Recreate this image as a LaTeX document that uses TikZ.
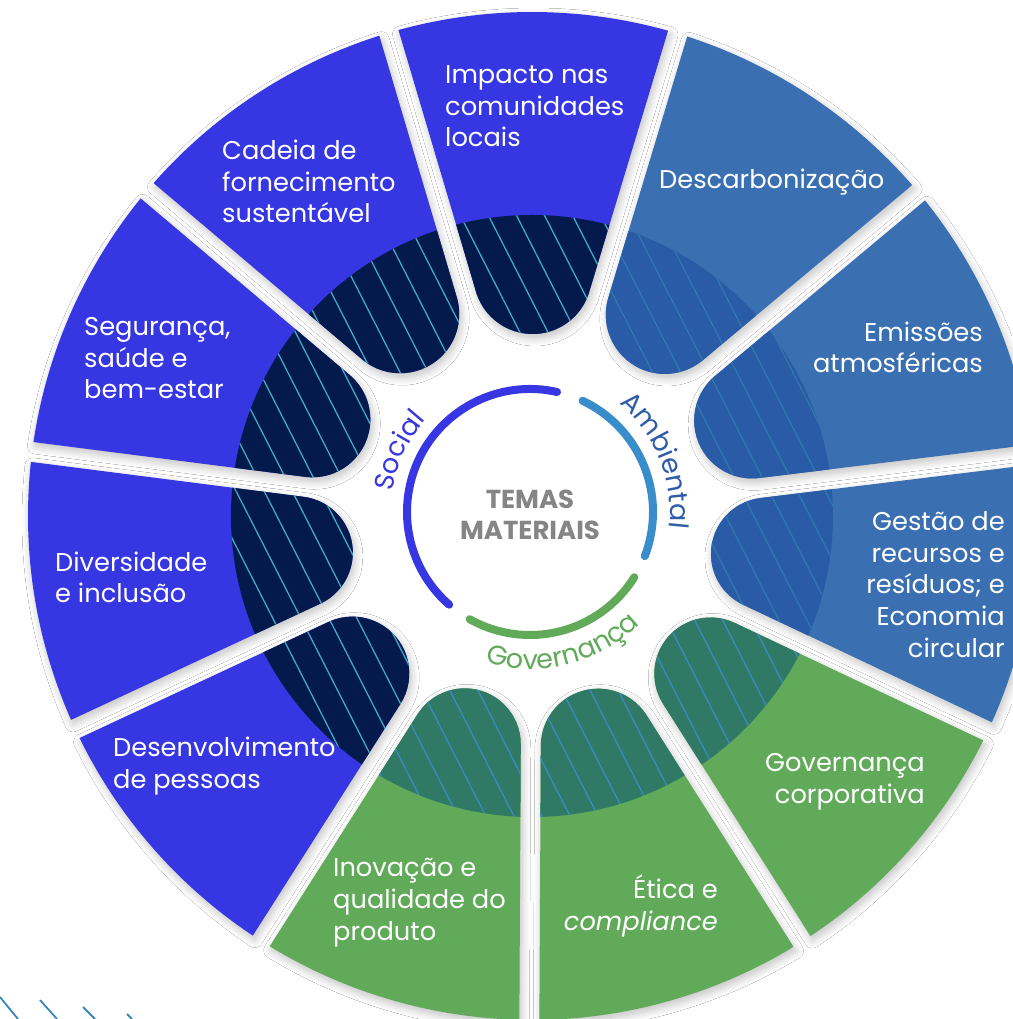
\documentclass[tikz,border=0pt]{standalone}
\usepackage{fontspec}
\setmainfont{Poppins}
\usepackage{tikz}
\usetikzlibrary{positioning}
\usetikzlibrary{calc,patterns.meta}
\usetikzlibrary{decorations.text}
\usetikzlibrary{shadows.blur}

\definecolor{SocialPetal}{HTML}{3636E2}
\definecolor{SocialDark}{HTML}{041A4C}
\definecolor{SocialHatch}{HTML}{40A8C8}
\definecolor{AmbPetal}{HTML}{3A70B1}
\definecolor{AmbDark}{HTML}{2A5BA6}
\definecolor{AmbHatch}{HTML}{2F79AD}
\definecolor{GovPetal}{HTML}{61AA5A}
\definecolor{GovDark}{HTML}{307A65}
\definecolor{GovHatch}{HTML}{3A8BBE}
\definecolor{AmbArc}{HTML}{3A8DCB}
\definecolor{AmbText}{HTML}{2E5CA8}
\definecolor{TextGray}{HTML}{858585}
\definecolor{DecoLine}{HTML}{3A86B8}

\newcommand{\petalfont}{\fontsize{25.7}{31.6}\selectfont}
\newcommand{\arclabelfont}{\fontsize{27}{30}\selectfont}

\tikzset{
	petal/.style={fill=#1Petal},
	petal shadow/.style={blur shadow={shadow xshift=2pt, shadow yshift=-4pt, shadow blur radius=8pt, shadow blur steps=12, shadow opacity=25}},
	petal text/.style={text=white, font=\petalfont, inner sep=0pt},
	ring line/.style={line width=8pt, line cap=round},
}

\begin{document}
\begin{tikzpicture}[x=1pt, y=1pt]
	\useasboundingbox (-532,-503) rectangle (480,516);
	\fill[white] (-532,-503) rectangle (480,516);
	
	% ---------------------
	% Wheel & ring centres
	\coordinate (Wheel) at (0,0);
	\coordinate (Ring) at (-2,4);
	
	\def\wheelR{504}
	\def\tipR{182}
	\def\gapH{10}
	\def\darkR{301}
	
	% ---------------------
	% Shadows first, then the petals
	\foreach \lo/\hi in {-90.3/-57.6, -122.5/-90.3, -155/-122.5, 172.7/205, 139.8/172.7, 106.5/139.8, 73.2/106.5, 39.9/73.2, 7/39.9, -25.3/7, -57.6/-25.3}{
		\pgfmathsetmacro\pMid{(\lo+\hi)/2}
		\pgfmathsetmacro\pHalf{(\hi-\lo)/2}
		\pgfmathsetmacro\pDist{(\tipR-\gapH)/(1-sin(\pHalf))}
		\pgfmathsetmacro\pRad{\pDist*sin(\pHalf)-\gapH}
		\pgfmathsetmacro\pOut{\pHalf-asin(\gapH/\wheelR)}
		\pgfmathsetmacro\pTx{\pDist*cos(\pMid)+\pRad*cos(\pMid+90+\pHalf)}
		\pgfmathsetmacro\pTy{\pDist*sin(\pMid)+\pRad*sin(\pMid+90+\pHalf)}
		\path[petal shadow] (\pMid+\pOut:\wheelR) -- (\pTx,\pTy) arc[start angle=\pMid+90+\pHalf, end angle=\pMid+270-\pHalf, radius=\pRad] -- (\pMid-\pOut:\wheelR) arc[start angle=\pMid-\pOut, end angle=\pMid+\pOut, radius=\wheelR] -- cycle;
	}
	
	\foreach \lo/\hi/\kind in {-90.3/-57.6/Gov, -122.5/-90.3/Gov, -155/-122.5/Social, 172.7/205/Social, 139.8/172.7/Social, 106.5/139.8/Social, 73.2/106.5/Social, 39.9/73.2/Amb, 7/39.9/Amb, -25.3/7/Amb, -57.6/-25.3/Gov}{
		\pgfmathsetmacro\pMid{(\lo+\hi)/2}
		\pgfmathsetmacro\pHalf{(\hi-\lo)/2}
		\pgfmathsetmacro\pDist{(\tipR-\gapH)/(1-sin(\pHalf))}
		\pgfmathsetmacro\pRad{\pDist*sin(\pHalf)-\gapH}
		\pgfmathsetmacro\pOut{\pHalf-asin(\gapH/\wheelR)}
		\pgfmathsetmacro\pTx{\pDist*cos(\pMid)+\pRad*cos(\pMid+90+\pHalf)}
		\pgfmathsetmacro\pTy{\pDist*sin(\pMid)+\pRad*sin(\pMid+90+\pHalf)}
		\fill[petal=\kind] (\pMid+\pOut:\wheelR) -- (\pTx,\pTy) arc[start angle=\pMid+90+\pHalf, end angle=\pMid+270-\pHalf, radius=\pRad] -- (\pMid-\pOut:\wheelR) arc[start angle=\pMid-\pOut, end angle=\pMid+\pOut, radius=\wheelR] -- cycle;
		\begin{scope}
			\clip (\pMid+\pOut:\wheelR) -- (\pTx,\pTy) arc[start angle=\pMid+90+\pHalf, end angle=\pMid+270-\pHalf, radius=\pRad] -- (\pMid-\pOut:\wheelR) arc[start angle=\pMid-\pOut, end angle=\pMid+\pOut, radius=\wheelR] -- cycle;
			\fill[\kind Dark] (Wheel) circle[radius=\darkR];
			\fill[pattern={Lines[angle=-63, distance=25pt, line width=1.3pt]}, pattern color=\kind Hatch] (Wheel) circle[radius=\darkR];
		\end{scope}
	}
	
	% ---------------------
	% Petal labels (base = last line)
	\node[petal text, anchor=base west, align=left] (Impacto) at (-87,369) {Impacto nas\\comunidades\\locais};
	\node[petal text, anchor=base west, align=left] (Cadeia) at (-310,293) {Cadeia de\\fornecimento\\sustentável};
	\node[petal text, anchor=base west, align=left] (Seguranca) at (-448,117) {Segurança,\\saúde e\\bem-estar};
	\node[petal text, anchor=base west, align=left] (Diversidade) at (-477,-87) {Diversidade\\e inclusão};
	\node[petal text, anchor=base west, align=left] (Desenvolvimento) at (-419,-272) {Desenvolvimento\\de pessoas};
	\node[petal text, anchor=base west, align=left] (Inovacao) at (-199,-424) {Inovação e\\qualidade do\\produto};
	\node[petal text, anchor=base east, align=right] (Etica) at (186,-414) {Ética e\\\textit{compliance}};
	\node[petal text, anchor=base east, align=right] (GovCorp) at (393,-287) {Governança\\corporativa};
	\node[petal text, anchor=base east, align=right] (Gestao) at (473,-141) {Gestão de\\recursos e\\resíduos; e\\Economia\\circular};
	\node[petal text, anchor=base east, align=right] (Emissoes) at (451,143) {Emissões\\atmosféricas};
	\node[petal text, anchor=base west] (Descarb) at (127,327) {Descarbonização};
	
	% ---------------------
	% Inner ring
	\draw[ring line, SocialPetal] ($(Ring)+(77.3:123)$) arc[start angle=77.3, end angle=228.9, radius=123];
	\draw[ring line, AmbArc] ($(Ring)+(64.7:123)$) arc[start angle=64.7, end angle=-21, radius=123];
	\draw[ring line, GovPetal] ($(Ring)+(-32:123)$) arc[start angle=-32, end angle=-119.4, radius=123];
	
	\path[decorate, decoration={text along path, text align=center, text={|\arclabelfont\color{SocialPetal}|Social}}] ($(Ring)+(190:139)$) arc[start angle=190, end angle=120, radius=139];
	\path[decorate, decoration={text along path, text align=center, text={|\arclabelfont\color{AmbText}|Ambiental}}] ($(Ring)+(60:140)$) arc[start angle=60, end angle=-16, radius=140];
	\path[decorate, decoration={text along path, text align=center, text={|\arclabelfont\color{GovPetal}|Governança}}] ($(Ring)+(-118:157)$) arc[start angle=-118, end angle=-34, radius=157];
	
	\node[text=TextGray, font=\fontsize{26}{31.5}\selectfont\bfseries, align=center] (Temas) at (-2,1) {TEMAS\\MATERIAIS};
	
	% ---------------------
	% Corner strokes
	\foreach \xa/\ya/\xb/\yb in {-532/-481/-514/-503, -492/-484/-475/-503, -449/-491/-437/-503, -405/-498/-400/-503}
		\draw[DecoLine, line width=1.8pt] (\xa,\ya) -- (\xb,\yb);
	
\end{tikzpicture}
\end{document}
